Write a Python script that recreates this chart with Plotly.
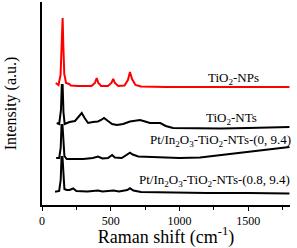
import plotly.graph_objects as go

# Raman shift (cm-1) and intensity (a.u., stacked with offsets)
np_shift = [100, 120, 135, 140, 146, 150, 155, 162, 175, 197, 210, 260, 360, 385, 398, 410, 430,
            480, 505, 518, 530, 555, 600, 625, 640, 655, 680, 720, 900, 1800]
np_int = [122, 120, 130, 155, 187, 187, 160, 131, 122, 121, 119.5, 119, 119, 122, 127, 122, 119,
          119, 122, 126, 122, 119, 119.5, 125, 133, 126, 120, 118.5, 118, 118]

nt_shift = [107, 125, 138, 144, 150, 156, 165, 200, 240, 265, 289, 310, 335, 370, 407, 430, 451,
            480, 510, 545, 590, 640, 680, 713, 750, 785, 860, 900, 953, 1100, 1300, 1500, 1650, 1800]
nt_int = [82, 81, 95, 120, 120, 93, 81, 83, 84, 88, 92, 87, 82, 83, 83.5, 85, 87,
          84, 81, 80, 81, 83.5, 84, 85, 83.5, 82, 82, 79, 77, 76.5, 76.5, 77, 77.5, 78]

a_shift = [103, 125, 136, 142, 149, 155, 163, 180, 220, 300, 370, 407, 440, 480, 510, 530, 580,
           620, 640, 660, 700, 800, 900, 1000, 1150, 1300, 1450, 1600, 1800]
a_int = [47, 47, 57, 80, 80, 60, 49, 46, 46, 46, 47, 48.5, 46.5, 47, 50, 47.5, 47,
         50, 52.3, 50.5, 48.5, 48, 47.5, 47, 47.5, 50, 52.5, 55, 58]

b_shift = [95, 125, 136, 142, 149, 155, 163, 180, 200, 227, 250, 330, 380, 407, 440, 500, 521,
           560, 620, 640, 665, 720, 900, 1200, 1500, 1800]
b_int = [13.3, 14, 25, 48, 48, 27, 16, 15, 15, 16.5, 14, 13.5, 14.5, 14.5, 13.5, 14, 14.5,
         13.5, 15, 16.7, 14.5, 13, 12.5, 12, 12, 11.5]

labels = ["TiO<sub>2</sub>-NPs", "TiO<sub>2</sub>-NTs",
          "Pt/In<sub>2</sub>O<sub>3</sub>-TiO<sub>2</sub>-NTs-(0, 9.4)",
          "Pt/In<sub>2</sub>O<sub>3</sub>-TiO<sub>2</sub>-NTs-(0.8, 9.4)"]
label_x = [1396, 1382, 1300, 1258]
label_y = [127, 87, 65, 25]

font = "Liberation Serif, Times New Roman, serif"

fig = go.Figure()
fig.add_trace(go.Scatter(x=np_shift, y=np_int, mode="lines", line=dict(color="#ff0000", width=2)))
fig.add_trace(go.Scatter(x=nt_shift, y=nt_int, mode="lines", line=dict(color="black", width=2)))
fig.add_trace(go.Scatter(x=a_shift, y=a_int, mode="lines", line=dict(color="black", width=2)))
fig.add_trace(go.Scatter(x=b_shift, y=b_int, mode="lines", line=dict(color="black", width=2)))

for t, x, y in zip(labels, label_x, label_y):
    fig.add_annotation(x=x, y=y, xref="x", yref="y", text=t, showarrow=False,
                       font=dict(family=font, size=13, color="black"))

fig.update_layout(
    width=297, height=248,
    margin=dict(l=42, r=7, t=2, b=43, autoexpand=False),
    paper_bgcolor="white", plot_bgcolor="white",
    showlegend=False,
    font=dict(family=font, color="black"),
    xaxis=dict(range=[0, 1804], showgrid=False, zeroline=False, showline=True,
               linecolor="black", linewidth=1.5, ticks="outside", ticklen=4,
               tickcolor="black", tickwidth=1, dtick=500, tick0=0,
               tickfont=dict(family=font, size=12, color="black"),
               minor=dict(dtick=250, ticks="outside", ticklen=3, tickcolor="black"),
               title=dict(text="Raman shift (cm<sup>-1</sup>)", standoff=6,
                          font=dict(family=font, size=18, color="black"))),
    yaxis=dict(range=[0, 203], showgrid=False, zeroline=False, showline=True,
               linecolor="black", linewidth=1.5, showticklabels=False, ticks="",
               title=dict(text="Intensity (a.u.)", standoff=20,
                          font=dict(family=font, size=16, color="black"))),
)

fig.write_html("out.html", config={"displayModeBar": False},
               post_script="document.body.style.margin='0';")
